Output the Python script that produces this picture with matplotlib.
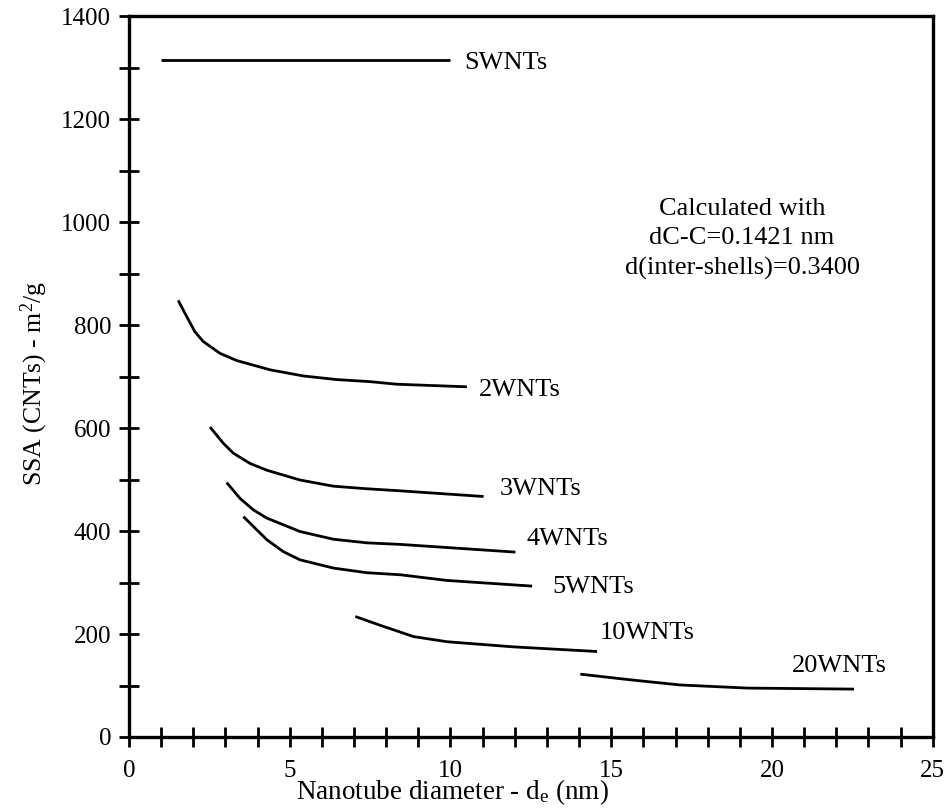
import matplotlib
matplotlib.use("Agg")
import matplotlib.pyplot as plt

plt.rcParams["font.family"] = ["Liberation Serif", "DejaVu Serif"]
plt.rcParams["mathtext.fontset"] = "custom"
plt.rcParams["mathtext.rm"] = "Liberation Serif"
plt.rcParams["mathtext.it"] = "Liberation Serif:italic"

# values
sw_x = [1.0, 10.0]
sw_y = [1315, 1315]

w2_x = [1.53, 1.80, 2.05, 2.31, 2.83, 3.35, 4.39, 5.43, 6.47, 7.50, 8.33, 10.51]
w2_y = [848, 816, 787, 768, 745, 731, 713, 701, 694, 690, 685, 680]

w3_x = [2.52, 2.94, 3.25, 3.77, 4.29, 5.32, 6.36, 7.40, 8.44, 11.03]
w3_y = [602, 570, 551, 531, 518, 499, 487, 482, 478, 467]

w4_x = [3.04, 3.46, 3.87, 4.29, 5.32, 6.36, 7.40, 8.44, 12.02]
w4_y = [494, 463, 441, 425, 399, 384, 377, 374, 359]

w5_x = [3.56, 3.98, 4.29, 4.80, 5.32, 6.36, 7.40, 8.44, 9.89, 12.54]
w5_y = [428, 402, 383, 360, 344, 328, 319, 315, 304, 293]

w10_x = [7.04, 7.81, 8.85, 9.89, 11.96, 14.56]
w10_y = [234, 217, 195, 185, 175, 166]

w20_x = [14.04, 15.60, 17.15, 19.23, 22.55]
w20_y = [122, 111, 101, 95, 93]

series = [(sw_x, sw_y), (w2_x, w2_y), (w3_x, w3_y), (w4_x, w4_y),
          (w5_x, w5_y), (w10_x, w10_y), (w20_x, w20_y)]

labels = ["SWNTs", "2WNTs", "3WNTs", "4WNTs", "5WNTs", "10WNTs", "20WNTs"]
label_x = [10.43, 10.87, 11.52, 12.36, 13.17, 14.63, 20.62]
label_y = [1297, 662, 470, 373, 280, 190, 126]

note = "Calculated with\ndC-C=0.1421 nm\nd(inter-shells)=0.3400"

fig = plt.figure(figsize=(9.51, 8.09), dpi=100)
ax = fig.add_axes([0.1356, 0.0890, 0.8452, 0.8912])

for xs, ys in series:
    ax.plot(xs, ys, color="black", lw=2.0, solid_capstyle="butt",
            solid_joinstyle="round")

for t, lx, ly in zip(labels, label_x, label_y):
    ax.text(lx, ly, t, fontsize=19, ha="left", va="baseline")

ax.text(19.07, 967, note, fontsize=19, ha="center", va="center",
        multialignment="center", linespacing=1.45)

ax.set_xlim(0, 25)
ax.set_ylim(0, 1400)
ax.set_xticks(range(0, 26, 5))
ax.set_xticks(range(0, 26), minor=True)
ax.set_yticks(range(0, 1401, 200))
ax.set_yticks(range(0, 1401, 100), minor=True)

for s in ax.spines.values():
    s.set_linewidth(2.4)

ax.tick_params(which="both", direction="inout", length=14.4, width=2.0,
               top=False, right=False, labelsize=18)
ax.tick_params(axis="x", pad=9.5)
ax.tick_params(axis="y", pad=5.5)

ax.set_xlabel(r"Nanotube diameter - d$_\mathrm{e}$ (nm)", fontsize=19.5, va="baseline")
ax.xaxis.set_label_coords(0.402, -0.0855)
ax.set_ylabel(r"SSA (CNTs) - m$^\mathrm{2}$/g", fontsize=18.5)
ax.yaxis.set_label_coords(-0.098, 0.491)

fig.savefig("out.png", dpi=100)
